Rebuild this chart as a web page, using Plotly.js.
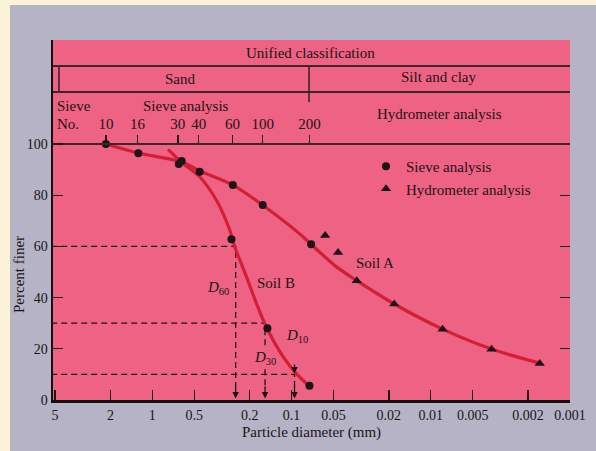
<!DOCTYPE html>
<html>
<head>
<meta charset="utf-8">
<script src="https://cdn.plot.ly/plotly-3.0.1.min.js"></script>
<style>
  html, body { margin: 0; padding: 0; background: #fcf2d8; width: 596px; height: 451px; overflow: hidden; }
  #chart { position: absolute; left: 10px; top: 5px; width: 586px; height: 446px; }
</style>
</head>
<body>
<div id="chart"></div>
<script>
// ---- data ----
const xTickVals = [5, 2, 1, 0.5, 0.2, 0.1, 0.05, 0.02, 0.01, 0.005, 0.002, 0.001];
const xTickText = ['5', '2', '1', '0.5', '0.2', '0.1', '0.05', '0.02', '0.01', '0.005', '0.002', '0.001'];
const yTickVals = [0, 20, 40, 60, 80, 100];
const sieveNo = ['10', '16', '30', '40', '60', '100', '200'];
const sieveD = [2.155, 1.276, 0.656, 0.464, 0.265, 0.161, 0.0743];

const soilASieveD = [2.155, 1.26, 0.615, 0.457, 0.264, 0.161, 0.0723];
const soilASievePct = [100, 96.4, 93.4, 89.2, 84.0, 76.2, 60.8];
const soilAHydroD = [0.0573, 0.0463, 0.0340, 0.0183, 0.00822, 0.00366, 0.00165];
const soilAHydroPct = [64.3, 57.6, 46.6, 37.5, 27.6, 19.8, 14.3];
const soilBSieveD = [0.646, 0.270, 0.149, 0.0743];
const soilBSievePct = [92.2, 62.8, 28.0, 5.6];

const curveAD = [2.155, 1.27, 0.615, 0.457, 0.265, 0.162, 0.0877, 0.0723, 0.0478, 0.0340, 0.0183, 0.00822, 0.00366, 0.00165];
const curveAPct = [100, 96.5, 93.0, 89.5, 84.0, 76.2, 65.0, 60.8, 52.1, 46.6, 37.5, 27.7, 19.9, 14.4];
const curveBD = [0.771, 0.608, 0.457, 0.347, 0.278, 0.256, 0.211, 0.179, 0.152, 0.115, 0.0952, 0.0764];
const curveBPct = [97.9, 92.6, 87.2, 78.1, 66.4, 59.9, 48.2, 37.8, 28.6, 16.9, 11.1, 5.9];

const dLabels = ['60', '30', '10'];
const dValues = [0.252, 0.155, 0.0952];
const dPct = [60, 30, 10];

// ---- styles ----
const SERIF = 'Liberation Serif, Times New Roman, serif';
const INK = '#1c1418';
const RED = '#d21f36';
const PINK = '#ee6283';
const GREY = '#b5b3c5';

const traces = [];
// dashed construction lines
dValues.forEach((d, i) => {
  traces.push({
    x: [20, d, d], y: [dPct[i], dPct[i], 5],
    mode: 'lines', line: { color: INK, width: 1.3, dash: '6px,4px' },
    hoverinfo: 'skip', showlegend: false
  });
});
traces.push({ x: curveAD, y: curveAPct, mode: 'lines', line: { color: RED, width: 3.2, shape: 'spline', smoothing: 0.8 }, showlegend: false, hoverinfo: 'skip' });
traces.push({ x: curveBD, y: curveBPct, mode: 'lines', line: { color: RED, width: 3.2, shape: 'spline', smoothing: 0.8 }, showlegend: false, hoverinfo: 'skip' });
traces.push({ x: soilASieveD, y: soilASievePct, mode: 'markers', name: 'Sieve analysis', legendgroup: 'a', marker: { symbol: 'circle', size: 8, color: INK } });
traces.push({ x: soilAHydroD, y: soilAHydroPct, mode: 'markers', name: 'Hydrometer analysis', legendgroup: 'b', marker: { symbol: 'triangle-up', size: 9, color: INK } });
traces.push({ x: soilBSieveD, y: soilBSievePct, mode: 'markers', name: 'Sieve analysis (B)', legendgroup: 'a', showlegend: false, marker: { symbol: 'circle', size: 8, color: INK } });
// helper traces so the sieve axis and right tick axis are drawn
traces.push({ x: [sieveD[0]], y: [50], xaxis: 'x2', mode: 'markers', marker: { opacity: 0 }, showlegend: false, hoverinfo: 'skip' });
traces.push({ x: [sieveD[0]], y: [50], yaxis: 'y2', mode: 'markers', marker: { opacity: 0 }, showlegend: false, hoverinfo: 'skip' });

const W = 517; // plot width px
const H = 360; // plot height px
const px = p => (p - 53) / W;        // page x -> paper
const py = p => (400 - p) / H;       // page y -> paper
const YTOP = 140.625;

const ann = [];
function txt(text, x, y, extra) {
  ann.push(Object.assign({ text, x, y, xref: 'paper', yref: 'paper', showarrow: false,
    xanchor: 'center', yanchor: 'middle',
    font: { family: SERIF, size: 15, color: INK } }, extra || {}));
}
txt('Unified classification', px(310), py(53));
txt('Sand', px(180), py(79));
txt('Silt and clay', px(438), py(77));
txt('Sieve', px(55), py(106), { xanchor: 'left' });
txt('No.', px(55), py(124), { xanchor: 'left' });
txt('Sieve analysis', px(186), py(106));
txt('Hydrometer analysis', px(439), py(114));
txt('Soil A', px(375), py(263));
txt('Soil B', px(276), py(283));
txt('<i>D</i><sub>60</sub>', px(218), py(288));
txt('<i>D</i><sub>30</sub>', px(265), py(358), { bgcolor: PINK, borderpad: 0 });
txt('<i>D</i><sub>10</sub>', px(297), py(336));
txt('Percent finer', px(19), py(275), { textangle: -90 });
txt('Particle diameter (mm)', px(311), py(433));

// arrowheads at the bottom of the dashed D lines
dValues.forEach(d => {
  ann.push({ x: Math.log10(d), y: 0.6, ax: Math.log10(d), ay: 6, xref: 'x', yref: 'y', axref: 'x', ayref: 'y',
    showarrow: true, arrowhead: 2, arrowsize: 1, arrowwidth: 1.3, arrowcolor: INK, text: '' });
});
ann.push({ x: Math.log10(dValues[2]), y: 10.4, ax: Math.log10(dValues[2]), ay: 14.5, xref: 'x', yref: 'y', axref: 'x', ayref: 'y',
  showarrow: true, arrowhead: 2, arrowsize: 1, arrowwidth: 1.3, arrowcolor: INK, text: '' });

const LINE = '#3a262e';
const shapes = [
  { type: 'line', xref: 'paper', yref: 'paper', x0: 0, x1: 1, y0: py(66), y1: py(66), line: { color: LINE, width: 2 } },
  { type: 'line', xref: 'paper', yref: 'paper', x0: 0, x1: 1, y0: py(92), y1: py(92), line: { color: LINE, width: 2 } },
  { type: 'line', xref: 'paper', yref: 'paper', x0: px(59), x1: px(59), y0: py(66), y1: py(92), line: { color: LINE, width: 1.6 } },
  { type: 'line', xref: 'paper', yref: 'paper', x0: px(309), x1: px(309), y0: py(66), y1: py(102), line: { color: LINE, width: 1.6 } }
];

const xRange = [0.7133, -3.0];
const layout = {
  width: 586, height: 446,
  margin: { l: 43, r: 26, t: 35, b: 51, pad: 0 },
  paper_bgcolor: GREY, plot_bgcolor: PINK,
  font: { family: SERIF, size: 15, color: INK },
  showlegend: true,
  legend: { x: px(366), y: py(150), xanchor: 'left', yanchor: 'top', bgcolor: 'rgba(0,0,0,0)',
    font: { family: SERIF, size: 15, color: INK }, tracegroupgap: 0, traceorder: 'grouped' },
  xaxis: { type: 'log', range: xRange, tickvals: xTickVals, ticktext: xTickText,
    ticks: 'inside', ticklen: 10, tickwidth: 1.4, tickcolor: INK,
    showline: true, linewidth: 3, linecolor: '#111', showgrid: false, zeroline: false,
    tickfont: { family: SERIF, size: 14, color: INK } },
  xaxis2: { type: 'log', range: xRange, overlaying: 'x', anchor: 'free', position: 100 / YTOP, side: 'top',
    tickvals: sieveD, ticktext: sieveNo, ticks: 'outside', ticklen: 8, tickwidth: 1.4, tickcolor: INK,
    showline: true, linewidth: 2, linecolor: LINE, showgrid: false, zeroline: false,
    tickfont: { family: SERIF, size: 15, color: INK } },
  yaxis: { range: [0, YTOP], tickvals: yTickVals, ticks: 'inside', ticklen: 10, tickwidth: 1.4, tickcolor: INK,
    showline: true, linewidth: 2.5, linecolor: '#111', showgrid: false, zeroline: false,
    tickfont: { family: SERIF, size: 14, color: INK } },
  yaxis2: { range: [0, YTOP], overlaying: 'y', side: 'right', tickvals: [20, 40, 60, 80], ticks: 'inside', ticklen: 10,
    tickwidth: 1.4, tickcolor: INK, showticklabels: false, showline: false, showgrid: false, zeroline: false },
  annotations: ann,
  shapes: shapes
};

Plotly.newPlot('chart', traces, layout, { staticPlot: true, displayModeBar: false });
</script>
</body>
</html>
